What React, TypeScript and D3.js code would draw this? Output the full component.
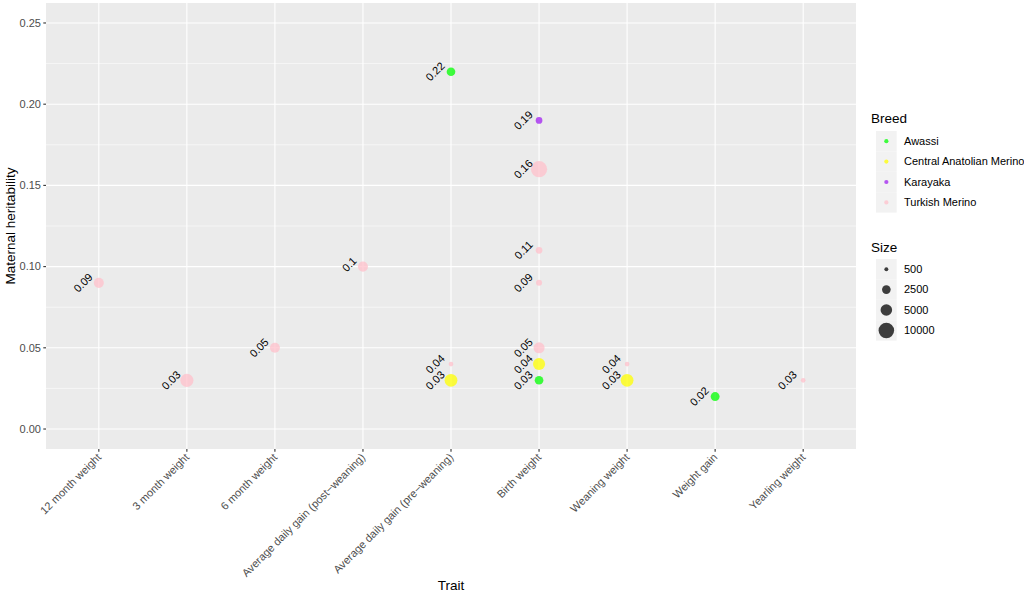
import React from "react";
import * as d3 from "d3";

const traits = [
  "12 month weight",
  "3 month weight",
  "6 month weight",
  "Average daily gain (post\u2212weaning)",
  "Average daily gain (pre\u2212weaning)",
  "Birth weight",
  "Weaning weight",
  "Weight gain",
  "Yearling weight",
];

const breeds = ["Awassi", "Central Anatolian Merino", "Karayaka", "Turkish Merino"];
const breedColors = ["#00FF00", "#FFFF00", "#A020F0", "#FFC0CB"];

const pointTrait = [
  "12 month weight",
  "3 month weight",
  "6 month weight",
  "Average daily gain (post\u2212weaning)",
  "Average daily gain (pre\u2212weaning)",
  "Average daily gain (pre\u2212weaning)",
  "Average daily gain (pre\u2212weaning)",
  "Birth weight",
  "Birth weight",
  "Birth weight",
  "Birth weight",
  "Birth weight",
  "Birth weight",
  "Birth weight",
  "Weaning weight",
  "Weaning weight",
  "Weight gain",
  "Yearling weight",
];
const pointBreed = [
  "Turkish Merino",
  "Turkish Merino",
  "Turkish Merino",
  "Turkish Merino",
  "Awassi",
  "Turkish Merino",
  "Central Anatolian Merino",
  "Karayaka",
  "Turkish Merino",
  "Turkish Merino",
  "Turkish Merino",
  "Turkish Merino",
  "Central Anatolian Merino",
  "Awassi",
  "Turkish Merino",
  "Central Anatolian Merino",
  "Awassi",
  "Turkish Merino",
];
const pointValue = [0.09, 0.03, 0.05, 0.1, 0.22, 0.04, 0.03, 0.19, 0.16, 0.11, 0.09, 0.05, 0.04, 0.03, 0.04, 0.03, 0.02, 0.03];
const pointLabel = ["0.09", "0.03", "0.05", "0.1", "0.22", "0.04", "0.03", "0.19", "0.16", "0.11", "0.09", "0.05", "0.04", "0.03", "0.04", "0.03", "0.02", "0.03"];
const pointSize = [3600, 6800, 3600, 3600, 2500, 650, 6300, 1350, 11000, 1350, 1080, 4550, 5600, 2500, 650, 6300, 2700, 650];

const yTicks = [0, 0.05, 0.1, 0.15, 0.2, 0.25];
const yTickLabels = ["0.00", "0.05", "0.10", "0.15", "0.20", "0.25"];
const yMinor = [0.025, 0.075, 0.125, 0.175, 0.225];
const sizeBreaks = [500, 2500, 5000, 10000];

const FONT = "'Liberation Sans', Arial, Helvetica, sans-serif";

export default function App() {
  const W = 1024, H = 595;
  const left = 46, right = 856, top = 3, bottom = 449;

  const x = d3.scalePoint<string>().domain(traits).range([left, right]).padding(0.6);
  const y = d3.scaleLinear().domain([-0.0123, 0.2623]).range([bottom, top]);
  const color = d3.scaleOrdinal<string, string>().domain(breeds).range(breedColors);
  const sizeT = d3.scaleLinear().domain([400, 11000]).range([0, 1]).clamp(true);
  const rmin = 1.3, rmax = 8.1;
  const r = (v: number) => rmin + (rmax - rmin) * Math.sqrt(sizeT(v));

  const points = pointValue.map((v, i) => ({
    trait: pointTrait[i],
    breed: pointBreed[i],
    value: v,
    label: pointLabel[i],
    size: pointSize[i],
  }));

  const legX = 876, keyW = 20.7, keyH = 20.4;
  const breedTop = 131;
  const sizeTop = 259;

  return (
    <svg width={W} height={H} style={{ position: "absolute", left: 0, top: 0 }} fontFamily={FONT}>
      <rect x={0} y={0} width={W} height={H} fill="#FFFFFF" />
      <rect x={left} y={top} width={right - left} height={bottom - top} fill="#EBEBEB" />
      {yMinor.map((t) => (
        <line key={"ym" + t} x1={left} x2={right} y1={y(t)} y2={y(t)} stroke="#FFFFFF" strokeWidth={0.55} />
      ))}
      {yTicks.map((t) => (
        <line key={"yg" + t} x1={left} x2={right} y1={y(t)} y2={y(t)} stroke="#FFFFFF" strokeWidth={1.1} />
      ))}
      {traits.map((t) => (
        <line key={"xg" + t} x1={x(t)} x2={x(t)} y1={top} y2={bottom} stroke="#FFFFFF" strokeWidth={1.1} />
      ))}

      {points.map((p, i) => (
        <circle
          key={"p" + i}
          cx={x(p.trait)}
          cy={y(p.value)}
          r={r(p.size)}
          fill={color(p.breed)}
          fillOpacity={0.75}
        />
      ))}
      {points.map((p, i) => {
        const ax = (x(p.trait) as number) - 5.5;
        const ay = y(p.value) - 5;
        return (
          <text
            key={"l" + i}
            x={ax}
            y={ay}
            textAnchor="end"
            fontSize={11}
            fill="#000000"
            transform={`rotate(-45, ${ax}, ${ay})`}
          >
            {p.label}
          </text>
        );
      })}

      {/* Y axis */}
      {yTicks.map((t, i) => (
        <g key={"yt" + t}>
          <line x1={left - 2.7} x2={left} y1={y(t)} y2={y(t)} stroke="#333333" strokeWidth={1.1} />
          <text x={left - 5} y={y(t)} dy="0.35em" textAnchor="end" fontSize={11} fill="#4D4D4D">
            {yTickLabels[i]}
          </text>
        </g>
      ))}
      <text
        x={15}
        y={(top + bottom) / 2}
        transform={`rotate(-90, 15, ${(top + bottom) / 2})`}
        textAnchor="middle"
        fontSize={13.5}
        fill="#000000"
      >
        Maternal heritability
      </text>

      {/* X axis */}
      {traits.map((t) => {
        const ax = (x(t) as number) + 3;
        const ay = bottom + 9;
        return (
          <g key={"xt" + t}>
            <line x1={x(t)} x2={x(t)} y1={bottom} y2={bottom + 2.7} stroke="#333333" strokeWidth={1.1} />
            <text
              x={ax}
              y={ay}
              textAnchor="end"
              fontSize={11}
              fill="#4D4D4D"
              transform={`rotate(-45, ${ax}, ${ay})`}
            >
              {t}
            </text>
          </g>
        );
      })}
      <text x={(left + right) / 2} y={590} textAnchor="middle" fontSize={13.5} fill="#000000">
        Trait
      </text>

      {/* Breed legend */}
      <text x={871} y={123} fontSize={13.5} fill="#000000">Breed</text>
      {breeds.map((b, i) => (
        <g key={"bl" + b}>
          <rect x={legX} y={breedTop + i * keyH} width={keyW} height={keyH} fill="#F2F2F2" />
          <circle cx={legX + keyW / 2} cy={breedTop + i * keyH + keyH / 2} r={2.1} fill={color(b)} fillOpacity={0.75} />
          <text x={904} y={breedTop + i * keyH + keyH / 2} dy="0.35em" fontSize={11} fill="#000000">
            {b}
          </text>
        </g>
      ))}

      {/* Size legend */}
      <text x={871} y={251.5} fontSize={13.5} fill="#000000">Size</text>
      {sizeBreaks.map((s, i) => (
        <g key={"sl" + s}>
          <rect x={legX} y={sizeTop + i * keyH} width={keyW} height={keyH} fill="#F2F2F2" />
          <circle cx={legX + keyW / 2} cy={sizeTop + i * keyH + keyH / 2} r={r(s)} fill="#000000" fillOpacity={0.75} />
          <text x={904} y={sizeTop + i * keyH + keyH / 2} dy="0.35em" fontSize={11} fill="#000000">
            {s}
          </text>
        </g>
      ))}
    </svg>
  );
}
